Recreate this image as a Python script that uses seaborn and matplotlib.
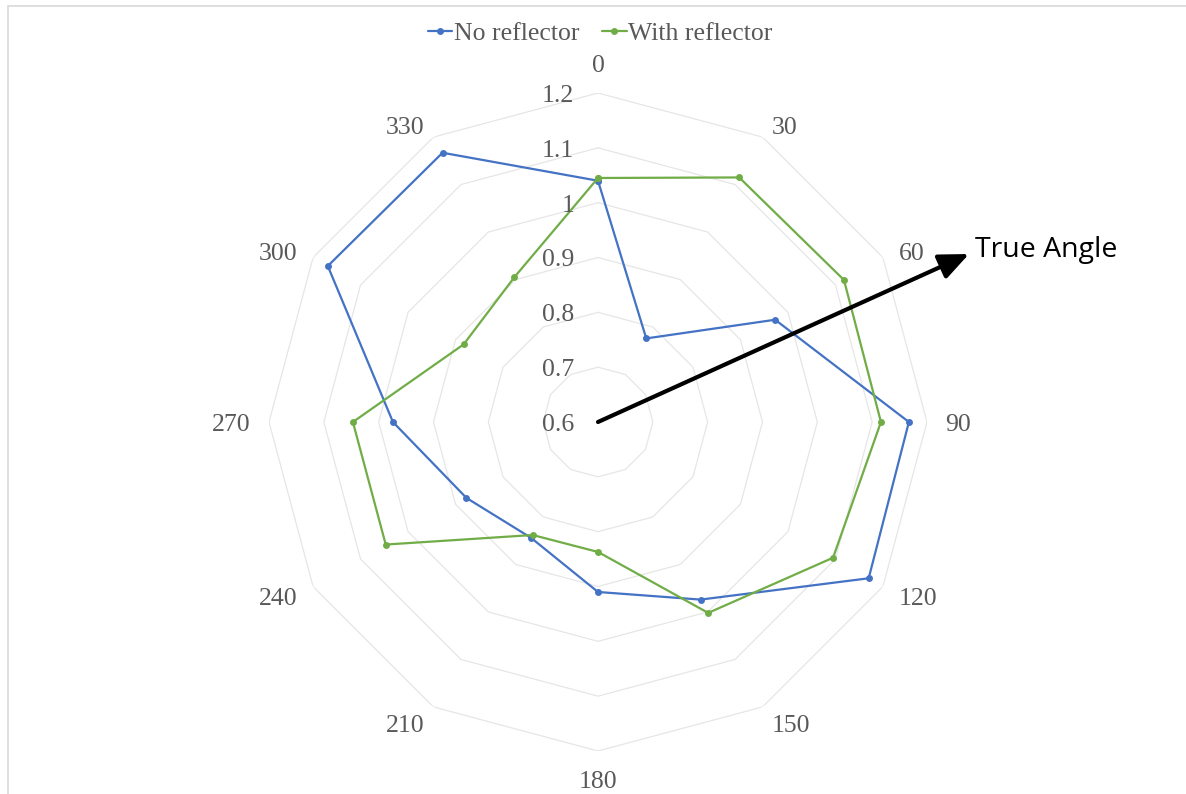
import numpy as np
import matplotlib
matplotlib.use("Agg")
import matplotlib.pyplot as plt
import seaborn as sns
import pandas as pd
from matplotlib.lines import Line2D
from matplotlib.patches import Rectangle

# ---- data ----
angles_deg = [0, 30, 60, 90, 120, 150, 180, 210, 240, 270, 300, 330]
angle_labels = ["0", "30", "60", "90", "120", "150", "180", "210", "240", "270", "300", "330"]
no_reflector = [1.04, 0.776, 0.973, 1.167, 1.17, 0.974, 0.91, 0.844, 0.877, 0.974, 1.169, 1.167]
with_reflector = [1.045, 1.115, 1.118, 1.116, 1.095, 1.002, 0.837, 0.838, 1.047, 1.047, 0.883, 0.905]
r_ticks = [0.6, 0.7, 0.8, 0.9, 1.0, 1.1, 1.2]
r_tick_labels = ["0.6", "0.7", "0.8", "0.9", "1", "1.1", "1.2"]
series_names = ["No reflector", "With reflector"]
colors = ["#4472C4", "#70AD47"]

sns.set_theme(style="white")
plt.rcParams["font.family"] = ["Liberation Serif", "DejaVu Serif"]

W, H = 1186, 794
fig = plt.figure(figsize=(W / 100, H / 100), dpi=100)
cx, cy, R = 598, 422, 329
ax = fig.add_axes([(cx - R) / W, (H - cy - R) / H, 2 * R / W, 2 * R / H], projection="polar")
ax.set_theta_zero_location("N")
ax.set_theta_direction(-1)
ax.set_ylim(r_ticks[0], r_ticks[-1])
ax.grid(False)
ax.spines["polar"].set_visible(False)
ax.set_xticks([])
ax.set_yticks([])
ax.set_facecolor("none")

theta = np.deg2rad(angles_deg)
theta_closed = np.append(theta, theta[0])

# polygon gridlines
grid_color = "#E6E6E6"
for rv in r_ticks[1:]:
    ax.plot(theta_closed, [rv] * len(theta_closed), color=grid_color, lw=0.9, zorder=1)

# data
df = pd.DataFrame({
    "theta": np.concatenate([theta_closed, theta_closed]),
    "value": no_reflector + [no_reflector[0]] + with_reflector + [with_reflector[0]],
    "series": [series_names[0]] * 13 + [series_names[1]] * 13,
})
for name, col in zip(series_names, colors):
    sub = df[df["series"] == name]
    sns.lineplot(data=sub, x="theta", y="value", ax=ax, color=col, lw=1.6,
                 marker="o", markersize=5, markeredgewidth=0, sort=False,
                 estimator=None, legend=False, zorder=3)
ax.set_xlabel("")
ax.set_ylabel("")
ax.set_ylim(r_ticks[0], r_ticks[-1])

text_color = "#595959"
fs = 18.5
px = 0.72  # points per pixel at dpi 100
# category labels, placed outside the outer vertex like Excel
for t, lab in zip(theta, angle_labels):
    s, c = np.sin(t), np.cos(t)
    if abs(s) < 0.01:
        ha, dx = "center", 0.0
        dy = (30 if c > 0 else 28) * np.sign(c)
    else:
        ha = "left" if s > 0 else "right"
        dx = 18 * s
        dy = (14 if c > 0 else 19) * c
    ax.annotate(lab, xy=(t, r_ticks[-1]), xytext=(dx * px, (dy - 3) * px), textcoords="offset points",
                ha=ha, va="center", fontsize=fs, color=text_color, annotation_clip=False)
# radial labels
for rv, lab in zip(r_ticks, r_tick_labels):
    ax.annotate(lab, xy=(0, rv), xytext=(-17, -3 * px), textcoords="offset points",
                ha="right", va="center", fontsize=fs, color=text_color, annotation_clip=False)

# arrow "True Angle"
ax.annotate("", xy=(969 / W, 1 - 254 / H), xycoords="figure fraction",
            xytext=(0, r_ticks[0]), textcoords="data",
            arrowprops=dict(arrowstyle="-|>,head_length=1.5,head_width=0.65", color="black", lw=3,
                            shrinkA=0, shrinkB=0), zorder=5)
fig.text(975 / W, 1 - 250 / H, "True Angle", ha="left", va="center", fontsize=20.5,
         family=["Open Sans", "DejaVu Sans"], color="black")

# legend
handles = [Line2D([0], [0], color=c, lw=1.6, marker="o", markersize=5, markeredgewidth=0) for c in colors]
fig.legend(handles, series_names, loc="center", bbox_to_anchor=(600 / W, 1 - 34 / H), ncol=2,
           frameon=False, fontsize=fs, handlelength=0.95, handletextpad=0.05, columnspacing=0.9,
           labelcolor=text_color)

# outer frame
fig.patches.append(Rectangle((8 / W, -0.01), 1.2, 1 - 6 / H + 0.01, transform=fig.transFigure,
                             fill=False, edgecolor="#D9D9D9", lw=1.2))

fig.savefig("out.png", dpi=100)
